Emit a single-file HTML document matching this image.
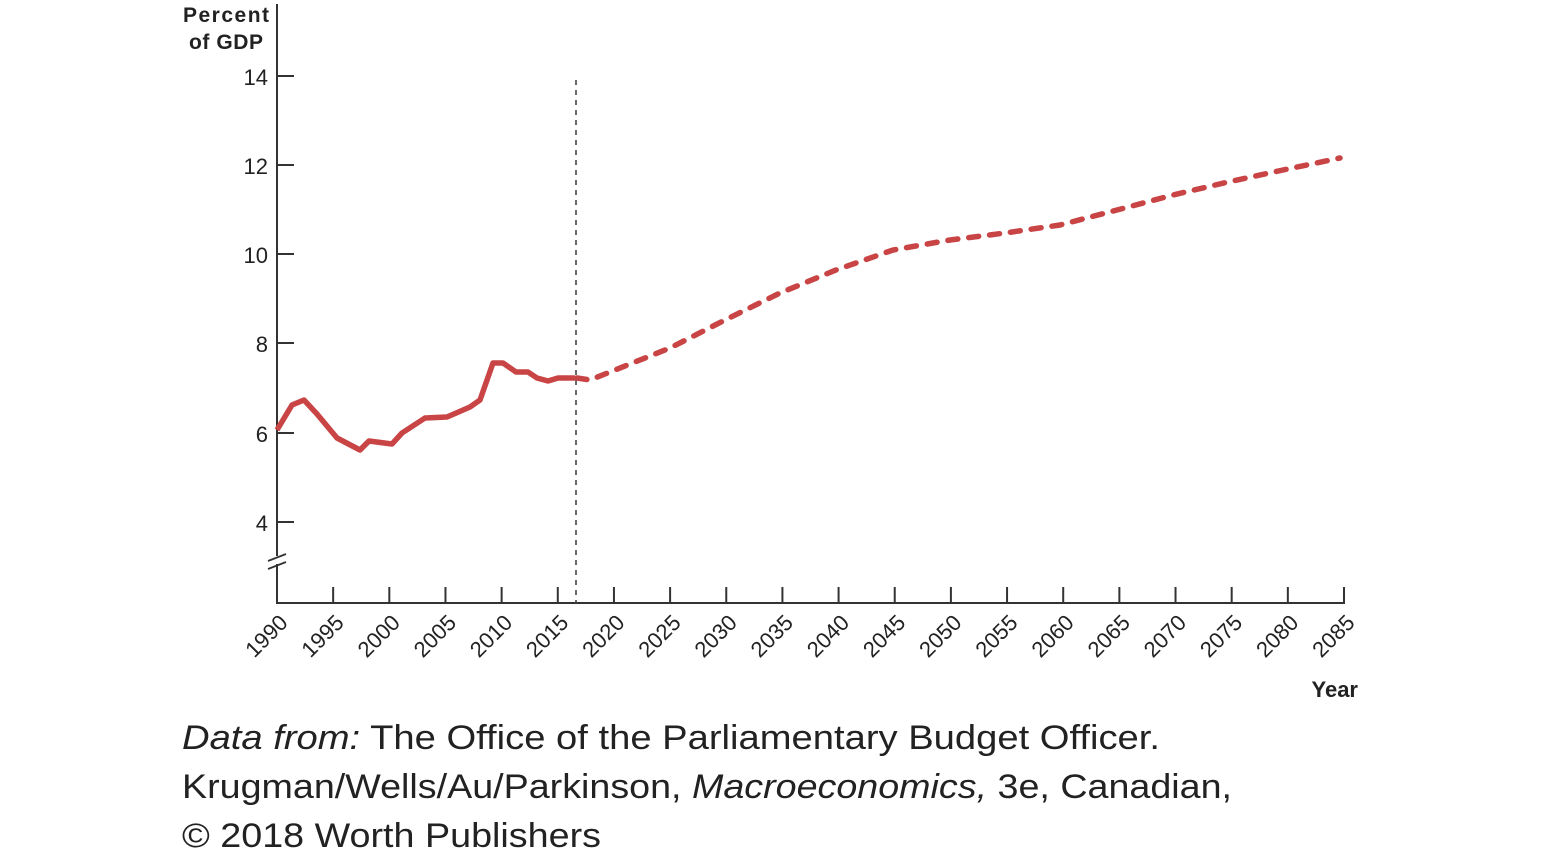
<!DOCTYPE html>
<html><head><meta charset="utf-8"><style>
body{margin:0;background:#fff;}
svg text{font-family:"Liberation Sans",sans-serif;fill:#222;}
</style></head><body>
<svg width="1541" height="859" xmlns="http://www.w3.org/2000/svg">
<text x="269" y="22" font-size="21" font-weight="bold" text-anchor="end" textLength="86">Percent</text>
<text x="263" y="49" font-size="21" font-weight="bold" text-anchor="end" textLength="74">of GDP</text>
<g stroke="#333" stroke-width="2" fill="none">
<line x1="277" y1="4" x2="277" y2="603"/>
<line x1="276" y1="603" x2="1345" y2="603"/>
<line x1="277" y1="76" x2="294" y2="76"/>
<line x1="277" y1="165" x2="294" y2="165"/>
<line x1="277" y1="254" x2="294" y2="254"/>
<line x1="277" y1="343" x2="294" y2="343"/>
<line x1="277" y1="433" x2="294" y2="433"/>
<line x1="277" y1="522" x2="294" y2="522"/>
</g>
<rect x="268" y="556" width="18" height="8" fill="#fff"/>
<g stroke="#333" stroke-width="1.8"><line x1="268" y1="561" x2="286" y2="554"/><line x1="268" y1="569" x2="286" y2="562"/></g>
<g font-size="22" text-anchor="end">
<text x="268" y="85">14</text><text x="268" y="174">12</text><text x="268" y="263">10</text>
<text x="268" y="352">8</text><text x="268" y="442">6</text><text x="268" y="531">4</text>
</g>
<g id="xt" stroke="#333" stroke-width="2"></g>
<g id="xl" font-size="22" text-anchor="end"></g>
<line x1="576" y1="80" x2="576" y2="603" stroke="#444" stroke-width="1.6" stroke-dasharray="5,5"/>
<polyline fill="none" stroke="#c94545" stroke-width="5.5" stroke-linejoin="round" points="277,430 292,405 304,400 317,414 337,438 360,450 369,441 392,444 402,433 425,418 447,417 470,407 480,400 493,363 503,363 516,372 528,372 537,378 548,381 558,378 575,378"/>
<polyline fill="none" stroke="#c94545" stroke-width="5.5" stroke-linecap="round" stroke-dasharray="10,11" points="577,378 590,380 615,370 670,348 725,320 780,293 836,270 893,250 950,240 1005,233 1060,225 1117,210 1173,195 1228,182 1283,170 1340,158"/>
<text x="1358" y="697" font-size="22" font-weight="bold" text-anchor="end">Year</text>
<text x="182" y="749" font-size="34" textLength="978" lengthAdjust="spacingAndGlyphs"><tspan font-style="italic">Data from:</tspan> The Office of the Parliamentary Budget Officer.</text>
<text x="182" y="798" font-size="34" textLength="1050" lengthAdjust="spacingAndGlyphs">Krugman/Wells/Au/Parkinson, <tspan font-style="italic">Macroeconomics,</tspan> 3e, Canadian,</text>
<text x="182" y="847" font-size="34" textLength="419" lengthAdjust="spacingAndGlyphs">© 2018 Worth Publishers</text>
<script>
var t=document.getElementById('xt'),l=document.getElementById('xl'),ns='http://www.w3.org/2000/svg';
for(var i=0;i<=19;i++){var x=277+i*1067/19,y=1990+5*i;
var ln=document.createElementNS(ns,'line');ln.setAttribute('x1',x);ln.setAttribute('x2',x);ln.setAttribute('y1',587);ln.setAttribute('y2',603);t.appendChild(ln);
var tx=document.createElementNS(ns,'text');tx.setAttribute('transform','translate('+(x+12)+',624) rotate(-45)');tx.textContent=y;l.appendChild(tx);}
</script>
</svg>
</body></html>
